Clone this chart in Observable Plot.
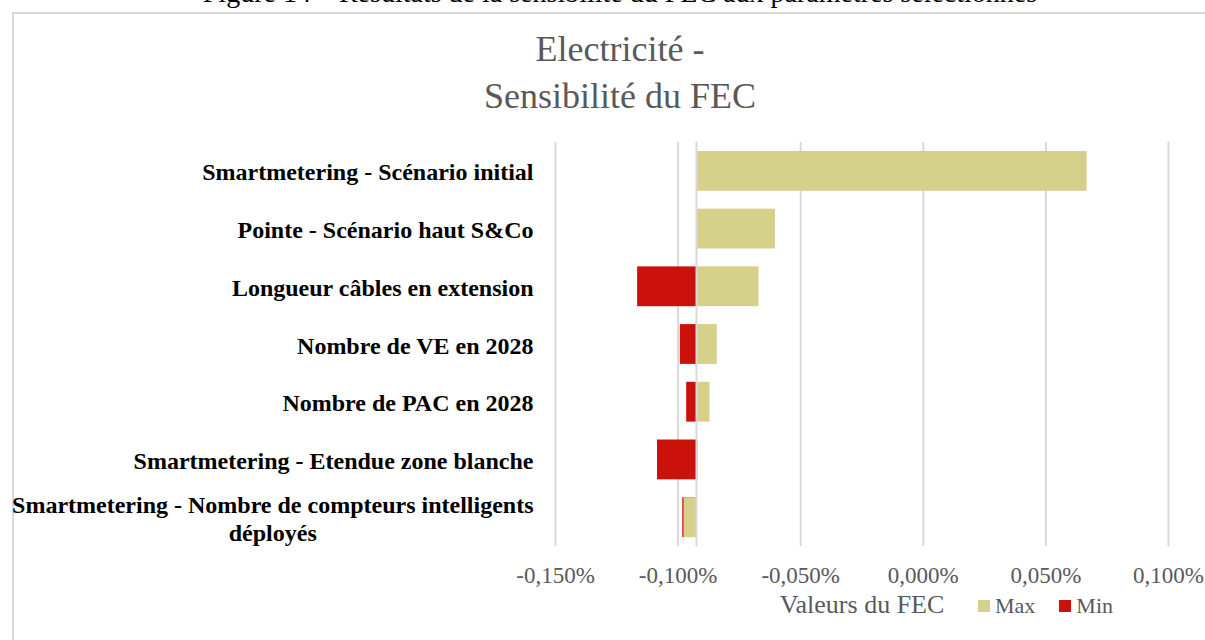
<!DOCTYPE html>
<html>
<head>
<meta charset="utf-8">
<script src="https://cdn.jsdelivr.net/npm/d3@7"></script>
<script src="https://cdn.jsdelivr.net/npm/@observablehq/plot@0.6"></script>
<style>
  html, body { margin: 0; padding: 0; background: #fff; }
  body { width: 1205px; height: 640px; position: relative; overflow: hidden; font-family: "Liberation Serif", "DejaVu Serif", serif; }
  #caption { position: absolute; left: 0; width: 1240px; top: -23px; text-align: center; font-size: 28px; color: #000; white-space: nowrap; }
  #frame { position: absolute; left: 12px; top: 12px; width: 1210px; height: 650px; border: 2px solid #d9d9d9; box-sizing: border-box; }
  #chart { position: absolute; left: 0; top: 0; }
  #title { position: absolute; left: 420px; width: 400px; top: 26px; text-align: center; font-size: 36px; line-height: 47px; color: #595959; }
  #xlabel { position: absolute; left: 742px; width: 240px; top: 590px; text-align: center; font-size: 26px; color: #595959; }
  #legend { position: absolute; left: 978px; top: 593px; font-size: 22px; color: #595959; display: flex; align-items: center; }
  .sw { display: inline-block; width: 12px; height: 12px; margin-right: 5px; }
  .item { display: flex; align-items: center; margin-right: 24px; }
</style>
</head>
<body>
<div id="caption">Figure 14 – Résultats de la sensibilité du FEC aux paramètres sélectionnés</div>
<div id="frame"></div>
<div id="chart"></div>
<div id="title">Electricité -<br>Sensibilité du FEC</div>
<div id="xlabel">Valeurs du FEC</div>
<div id="legend"></div>
<script>
// ---- data ----
const categories = [
  "Smartmetering - Scénario initial",
  "Pointe - Scénario haut S&Co",
  "Longueur câbles en extension",
  "Nombre de VE en 2028",
  "Nombre de PAC en 2028",
  "Smartmetering - Etendue zone blanche",
  "Smartmetering - Nombre de compteurs intelligents\ndéployés"
];
const maxValues = [0.0668, -0.0603, -0.0670, -0.0840, -0.0870, -0.0917, -0.0976];
const minValues = [null, null, -0.1165, -0.0991, -0.0965, -0.1084, -0.0981];
const baseValue = -0.0925;
const xTicks = [-0.15, -0.10, -0.05, 0, 0.05, 0.10];
const seriesNames = ["Max", "Min"];
const seriesColors = ["#d5d08a", "#cc100c"];

// ---- tables ----
const maxRows = categories.map((c, i) => ({cat: c, v: maxValues[i]})).filter(d => d.v != null);
const minRows = categories.map((c, i) => ({cat: c, v: minValues[i]})).filter(d => d.v != null);
const fmt = d => d.toFixed(3).replace("-0.000", "0.000").replace(".", ",") + "%";

const chart = Plot.plot({
  width: 1205,
  height: 640,
  marginLeft: 555,
  marginRight: 37,
  marginTop: 142,
  marginBottom: 94,
  style: {fontFamily: "'Liberation Serif', serif", fontSize: "20px", background: "transparent"},
  x: {domain: [-0.15, 0.10], ticks: xTicks, label: null},
  y: {domain: categories, paddingInner: 0.31, paddingOuter: 0.155, round: false, label: null},
  marks: [
    Plot.gridX(xTicks, {stroke: "#d9d9d9", strokeOpacity: 1, strokeWidth: 2}),
    Plot.barX(minRows, {y: "cat", x1: baseValue, x2: "v", fill: seriesColors[1]}),
    Plot.barX(maxRows, {y: "cat", x1: baseValue, x2: "v", fill: seriesColors[0]}),
    Plot.ruleX([baseValue], {stroke: "#d9d9d9", strokeWidth: 2}),
    Plot.axisX({ticks: xTicks, tickFormat: fmt, tickSize: 0, tickPadding: 20, fill: "#595959", fontSize: 23, label: null}),
    Plot.axisY({tickSize: 0, tickPadding: 22, fill: "#000", fontWeight: "bold", fontSize: 24, lineHeight: 1.17, label: null})
  ]
});
document.getElementById("chart").appendChild(chart);

// center the second line of the wrapped category label under the first
chart.querySelectorAll("text").forEach(t => {
  const spans = t.querySelectorAll("tspan");
  if (spans.length === 2) {
    const w = spans[0].getComputedTextLength();
    spans[1].setAttribute("x", -w / 2);
    spans[1].setAttribute("text-anchor", "middle");
  }
});

// legend
const legend = document.getElementById("legend");
seriesNames.forEach((n, i) => {
  const it = document.createElement("div");
  it.className = "item";
  it.innerHTML = `<span class="sw" style="background:${seriesColors[i]}"></span>${n}`;
  legend.appendChild(it);
});
</script>
</body>
</html>
